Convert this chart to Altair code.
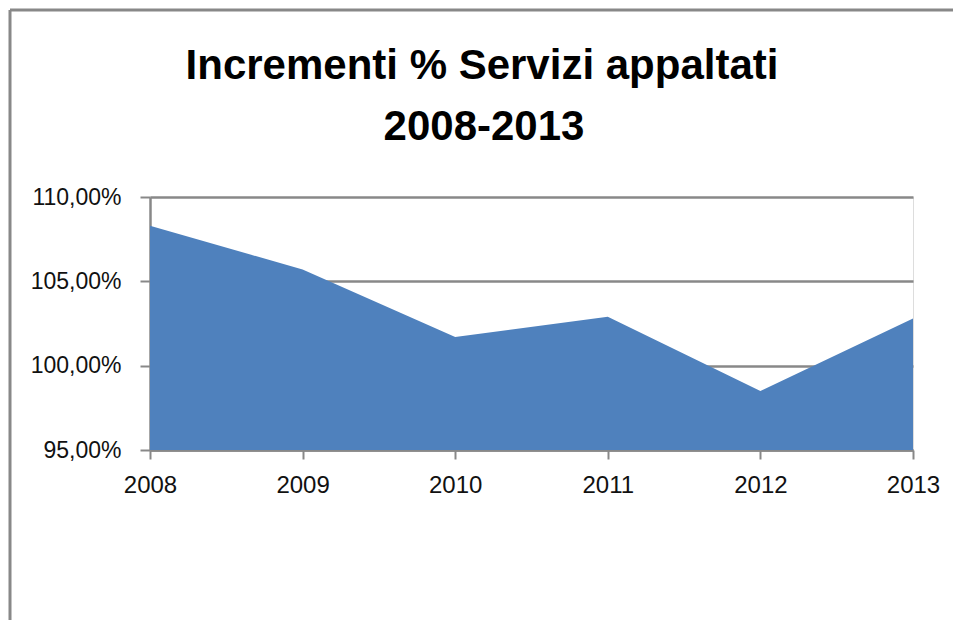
import altair as alt
import pandas as pd

years = [2008, 2009, 2010, 2011, 2012, 2013]
values = [108.3, 105.7, 101.7, 102.9, 98.5, 102.8]
y_ticks = [95, 100, 105, 110]
title_lines = ["Incrementi % Servizi appaltati", "2008-2013"]

df = pd.DataFrame({"anno": years, "valore": values, "base": [95] * len(years)})

W, H = 763, 253
GRAY = "#888888"

x_enc = alt.X("anno:Q", scale=alt.Scale(domain=[2008, 2013], nice=False, zero=False),
              axis=alt.Axis(values=years, format="d", title=None, grid=False,
                            labelFont="Liberation Sans", labelFontSize=24, labelColor="#111",
                            labelPadding=14, tickSize=9, tickColor=GRAY, tickWidth=2,
                            domainColor=GRAY, domainWidth=2.5, labelFlush=False))
y_enc = alt.Y("valore:Q", scale=alt.Scale(domain=[95, 110], nice=False, zero=False),
              axis=alt.Axis(values=y_ticks, title=None, grid=True, gridColor=GRAY, gridWidth=2.5,
                            labelExpr="replace(format(datum.value, '.2f'), '.', ',') + '%'",
                            labelFont="Liberation Sans", labelFontSize=23, labelColor="#111",
                            labelPadding=19, tickSize=10, tickColor=GRAY, tickWidth=2,
                            domainColor=GRAY, domainWidth=2.5))

area = alt.Chart(df).mark_area(color="#4F81BD", opacity=1).encode(
    x=x_enc, y=y_enc, y2="base:Q"
)

one = alt.Data(values=[{"k": 1}])
left_border = alt.Chart(one).mark_rule(color=GRAY, strokeWidth=3).encode(
    x=alt.value(-140), y=alt.value(-187), y2=alt.value(800)
)
top_border = alt.Chart(one).mark_rule(color=GRAY, strokeWidth=3).encode(
    x=alt.value(-140), x2=alt.value(900), y=alt.value(-187)
)

title_style = dict(font="Liberation Sans", fontSize=42, fontWeight="bold", color="#000",
                   align="center", baseline="alphabetic")
title1 = alt.Chart(one).mark_text(**title_style).encode(
    x=alt.value(332), y=alt.value(-118), text=alt.value(title_lines[0])
)
title2 = alt.Chart(one).mark_text(**title_style).encode(
    x=alt.value(334), y=alt.value(-57), text=alt.value(title_lines[1])
)

chart = alt.layer(area, left_border, top_border, title1, title2).properties(
    width=W, height=H,
    autosize=alt.AutoSizeParams(type="none"),
    padding={"left": 142, "top": 189, "right": 40, "bottom": 170},
).configure_view(stroke=None).configure(background="white")

chart.save("out.html", embed_options={"renderer": "svg", "actions": False})
